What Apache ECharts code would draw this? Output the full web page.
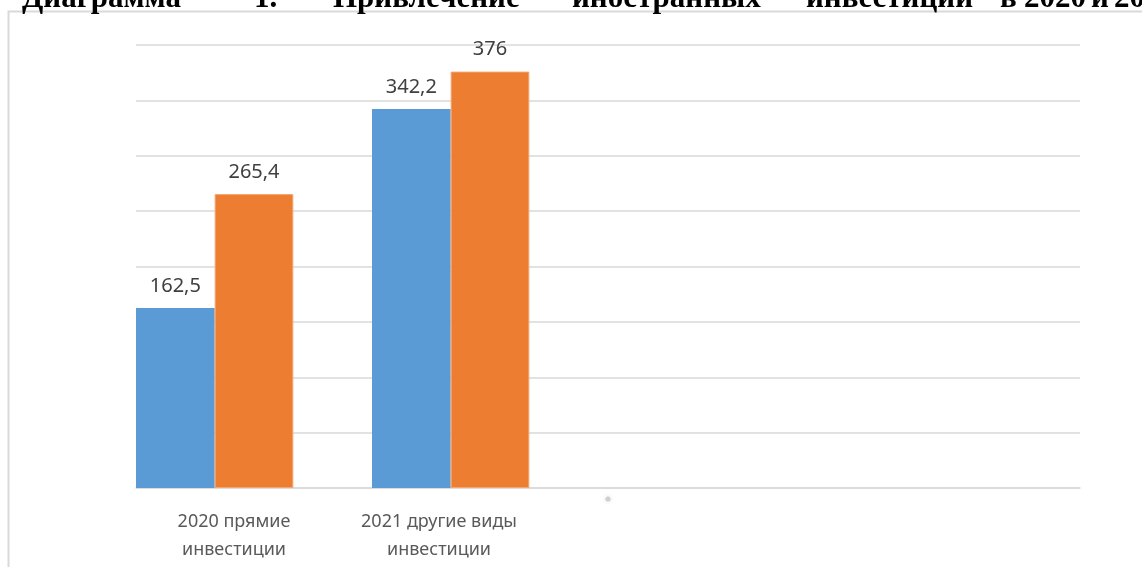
<!DOCTYPE html>
<html>
<head>
<meta charset="utf-8">
<script src="https://cdn.jsdelivr.net/npm/echarts@6/dist/echarts.min.js"></script>
<style>
  html, body { margin: 0; padding: 0; background: #fff; overflow: hidden; }
  #chart { width: 1142px; height: 567px; }
</style>
</head>
<body>
<div id="chart"></div>
<script>
const categories = ['2020 прямие\nинвестиции', '2021 другие виды\nинвестиции', '', ''];
const seriesBlue = [162.5, 342.2, null, null];
const seriesOrange = [265.4, 376, null, null];
const seriesEmpty = [null, null, null, null];
const titleWords = ['Диаграмма', '1.', 'Привлечение', 'иностранных', 'инвестиций', 'в', '2020', 'и', '2021'];
const titleX = [22, 254, 333, 572, 806, 1000, 1024, 1091, 1114];

const chart = echarts.init(document.getElementById('chart'));
const fmt = p => (p.value == null ? '' : String(p.value).replace('.', ','));
const labelOpt = {
  show: true, position: 'top', distance: 12, formatter: fmt,
  color: '#404040', fontSize: 20, fontFamily: 'Noto Sans'
};
const labelShift = [40, 102, 0, 0];

const graphics = [
  { type: 'rect', shape: { x: 8.5, y: 11.5, width: 1200, height: 600 }, style: { fill: 'none', stroke: '#d9d9d9', lineWidth: 2 }, silent: true },
  { type: 'circle', shape: { cx: 608, cy: 499, r: 2.5 }, style: { fill: '#cfcfcf', shadowBlur: 4, shadowColor: '#d8d8d8' }, silent: true }
];
titleWords.forEach((w, i) => {
  graphics.push({
    type: 'text', x: titleX[i], y: -17,
    style: { text: w, font: 'bold 31px "Liberation Serif"', fill: '#000' },
    silent: true
  });
});

chart.setOption({
  animation: false,
  grid: { left: 136, right: 62, top: 45, bottom: 79 },
  xAxis: {
    type: 'category',
    data: categories.map((c, i) => ({ value: c, textStyle: { padding: [0, labelShift[i], 0, 0] } })),
    axisTick: { show: false },
    axisLine: { lineStyle: { color: '#d9d9d9', width: 1.5 } },
    axisLabel: { color: '#595959', fontSize: 18, fontFamily: 'Noto Sans', lineHeight: 28, margin: 20, interval: 0 }
  },
  yAxis: {
    type: 'value', min: 0, max: 400, interval: 50,
    axisLabel: { show: false },
    axisLine: { show: false }, axisTick: { show: false },
    splitLine: { lineStyle: { color: '#d9d9d9', width: 1.5 } }
  },
  series: [
    { type: 'bar', name: 'a', data: seriesBlue, barGap: '0%', barCategoryGap: '0%', itemStyle: { color: '#5b9bd5' }, label: labelOpt },
    { type: 'bar', name: 'b', data: seriesOrange, barGap: '0%', barCategoryGap: '0%', itemStyle: { color: '#ed7d31', borderColor: '#f3a673', borderWidth: 1 }, label: labelOpt },
    { type: 'bar', name: 'c', data: seriesEmpty, barGap: '0%', barCategoryGap: '0%' }
  ],
  graphic: graphics
});
</script>
</body>
</html>
